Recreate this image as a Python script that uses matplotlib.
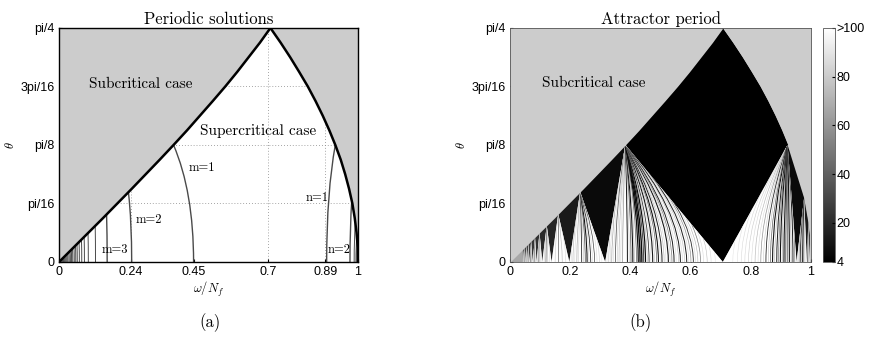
import numpy as np
import matplotlib
matplotlib.use("Agg")
import matplotlib.pyplot as plt
from matplotlib.path import Path
from matplotlib.patches import PathPatch, Polygon
from matplotlib.cm import ScalarMappable
from matplotlib.colors import Normalize

plt.rcParams['font.family'] = ['Liberation Sans', 'DejaVu Sans']
plt.rcParams['mathtext.fontset'] = 'cm'

# ---- critical lines (theta in rad vs omega/N_f) ----
theta_lev = np.arange(17) * np.pi / 64
left_x = [0.0, 0.049, 0.098, 0.147, 0.195, 0.243, 0.290, 0.337, 0.383,
          0.428, 0.471, 0.514, 0.556, 0.596, 0.634, 0.672, 0.707]
right_x = [1.0, 0.999, 0.995, 0.989, 0.981, 0.970, 0.957, 0.942, 0.924,
           0.904, 0.882, 0.858, 0.832, 0.803, 0.773, 0.741, 0.707]

# ---- periodic solution branches (left panel) ----
m_bot = [0.45, 0.243, 0.161, 0.122, 0.098, 0.085, 0.076, 0.068, 0.061, 0.056,
         0.051, 0.046, 0.042, 0.038, 0.034, 0.030, 0.027, 0.024, 0.021, 0.018,
         0.015, 0.012, 0.009, 0.006]
m_top_x = [0.383, 0.232, 0.159, 0.121, 0.097, 0.084, 0.075, 0.067, 0.060, 0.055,
           0.050, 0.045, 0.041, 0.037, 0.033, 0.029, 0.026, 0.023, 0.020, 0.017,
           0.014, 0.011, 0.008, 0.005]
n_bot = [0.895, 0.973, 0.987, 0.993, 0.996, 0.998]
n_top_x = [0.924, 0.979, 0.991, 0.996, 0.998, 0.999]
n_top_t = [0.393, 0.205, 0.134, 0.090, 0.060, 0.045]

# ---- attractor map (right panel) ----
apex_x = [0.707, 0.383, 0.233, 0.160, 0.122, 0.098, 0.083, 0.070, 0.061, 0.054,
          0.048, 0.043]
apex_t = [0.785, 0.393, 0.235, 0.161, 0.122, 0.098, 0.083, 0.070, 0.061, 0.054,
          0.048, 0.043]
base_x = [0.707, 0.316, 0.197, 0.138, 0.107, 0.088, 0.075, 0.065, 0.057, 0.051,
          0.046, 0.041]
tri_period = [8, 14, 18, 20, 22, 24, 26, 28, 30, 32, 34]

rapex_x = [0.707, 0.922, 0.977, 0.991, 0.996]
rapex_t = [0.785, 0.393, 0.215, 0.134, 0.090]
rbase_x = [0.707, 0.952, 0.986, 0.995, 1.0]
rtri_period = [8, 14, 18]

# streaks in each fan: base position, period of the streak, width
fan1_x = [0.322, 0.328, 0.333, 0.338, 0.344, 0.350, 0.356, 0.362, 0.368, 0.374,
          0.390, 0.396, 0.402, 0.408, 0.413, 0.420, 0.426, 0.432, 0.438, 0.444,
          0.450, 0.456, 0.462, 0.468, 0.474, 0.480, 0.487, 0.493, 0.499, 0.505,
          0.512, 0.518, 0.526, 0.532, 0.538, 0.545, 0.552, 0.560, 0.566, 0.573,
          0.580, 0.587, 0.594, 0.601, 0.609, 0.616, 0.624, 0.633, 0.643, 0.655,
          0.668, 0.682]
fan1_p = [85, 75, 85, 60, 85, 40, 80, 70, 85, 60,
          12, 75, 30, 10, 70, 40, 10, 8, 8, 20, 8, 70, 25, 85, 12,
          75, 40, 10, 85, 15, 70, 85, 12, 80, 50, 15, 85, 70, 12, 85,
          75, 15, 85, 60, 20, 85, 70, 50, 85, 75, 85, 90]
fan1_w = [0.4, 0.4, 0.4, 0.4, 0.4, 0.6, 0.4, 0.4, 0.4, 0.5,
          0.7, 0.4, 0.5, 0.8, 0.4, 0.5, 0.9, 1.0, 1.0, 0.6, 0.9, 0.4, 0.6, 0.4,
          0.8, 0.4, 0.5, 0.8, 0.4, 0.7, 0.4, 0.4, 0.8, 0.4, 0.5, 0.7, 0.4, 0.4,
          0.7, 0.4, 0.4, 0.7, 0.4, 0.5, 0.6, 0.4, 0.4, 0.5, 0.4, 0.4, 0.4, 0.4]
fan2_x = [0.203, 0.209, 0.215, 0.222, 0.228, 0.238, 0.244, 0.250, 0.256, 0.262,
          0.268, 0.274, 0.281, 0.289, 0.297, 0.305]
fan2_p = [85, 70, 85, 60, 80, 20, 75, 30, 12, 80, 20, 85, 30, 85, 80, 90]
fan2_w = [0.4, 0.4, 0.4, 0.4, 0.4, 0.6, 0.4, 0.5, 0.8, 0.4, 0.6, 0.4, 0.5, 0.4,
          0.4, 0.4]
fanr1_x = [0.740, 0.755, 0.768, 0.780, 0.792, 0.803, 0.814, 0.824, 0.833, 0.842,
           0.850, 0.858, 0.865, 0.872, 0.879, 0.886, 0.892, 0.898, 0.904, 0.910,
           0.916, 0.922, 0.928, 0.934, 0.940, 0.946]
fanr1_p = [90, 88, 85, 85, 80, 85, 70, 85, 60, 80, 20, 75, 40, 12, 70, 15, 50, 10,
           60, 12, 30, 40, 12, 60, 15, 50]
fanr1_w = [0.4, 0.4, 0.4, 0.4, 0.4, 0.4, 0.4, 0.4, 0.5, 0.4, 0.6, 0.4, 0.5, 0.8,
           0.4, 0.7, 0.5, 0.8, 0.4, 0.8, 0.6, 0.5, 0.8, 0.4, 0.7, 0.5]
fanr2_x = [0.956, 0.960, 0.964, 0.968, 0.972, 0.976, 0.980]
fanr2_p = [80, 60, 20, 70, 12, 40, 80]
fanr2_w = [0.4, 0.4, 0.6, 0.4, 0.7, 0.5, 0.4]

cb_ticks = [4, 20, 40, 60, 80, 100]
cb_labels = ['4', '20', '40', '60', '80', '>100']

SUB = '#cccccc'
cmap = plt.get_cmap('gray')
norm = Normalize(4, 100)


def curve(ax, p0, p1, ctrl_frac, **kw):
    verts = [p0, (p0[0], p1[1] * ctrl_frac), p1]
    path = Path(verts, [Path.MOVETO, Path.CURVE3, Path.CURVE3])
    patch = PathPatch(path, fill=False, **kw)
    ax.add_patch(patch)
    return patch


fig = plt.figure(figsize=(8.72, 3.37), dpi=100)
ax1 = fig.add_axes([0.0677, 0.2226, 0.3429, 0.6944])
ax2 = fig.add_axes([0.5849, 0.2226, 0.3452, 0.6944])
cax = fig.add_axes([0.9438, 0.2226, 0.0138, 0.6944])

# -------------------------- left panel --------------------------
ax1.set_facecolor('white')
# dotted grid inside the supercritical wedge
for gx in [0.24, 0.7, 0.89]:
    ax1.axvline(gx, color='#888888', ls=(0, (1, 2.5)), lw=0.6, zorder=1)
for gy in [np.pi / 16, np.pi / 8, 3 * np.pi / 16]:
    ax1.axhline(gy, color='#888888', ls=(0, (1, 2.5)), lw=0.6, zorder=1)

ax1.fill_betweenx(theta_lev, 0, left_x, color=SUB, lw=0, zorder=2)
ax1.fill_betweenx(theta_lev, right_x, 1, color=SUB, lw=0, zorder=2)
ax1.fill_between([0, 0.707], [0.785, 0.785], 1, color=SUB, lw=0, zorder=2)

for k in range(len(m_bot)):
    tt = m_top_x[k]
    tt_theta = np.interp(tt, left_x, theta_lev)
    lw = 1.0 if k < 3 else 0.7
    curve(ax1, (m_bot[k], 0), (tt, tt_theta), 0.6, ec='#4a4a4a', lw=lw, zorder=3)
for k in range(len(n_bot)):
    curve(ax1, (n_bot[k], 0), (n_top_x[k], n_top_t[k]), 0.6, ec='#4a4a4a',
          lw=1.0 if k < 2 else 0.7, zorder=3)

ax1.plot(left_x, theta_lev, color='black', lw=1.8, zorder=4, solid_capstyle='round')
ax1.plot(right_x, theta_lev, color='black', lw=1.8, zorder=4, solid_capstyle='round')

txt = dict(family='cmr10', zorder=5)
ax1.text(0.274, 0.597, 'Subcritical case', ha='center', va='center', fontsize=11, **txt)
ax1.text(0.667, 0.439, 'Supercritical case', ha='center', va='center', fontsize=11, **txt)
ax1.text(0.478, 0.315, 'm=1', ha='center', va='center', fontsize=9, **txt)
ax1.text(0.301, 0.141, 'm=2', ha='center', va='center', fontsize=9, **txt)
ax1.text(0.187, 0.040, 'm=3', ha='center', va='center', fontsize=9, **txt)
ax1.text(0.862, 0.215, 'n=1', ha='center', va='center', fontsize=9, **txt)
ax1.text(0.936, 0.040, 'n=2', ha='center', va='center', fontsize=9, **txt)

ax1.set_xlim(0, 1)
ax1.set_ylim(0, np.pi / 4)
ax1.set_xticks([0, 0.24, 0.45, 0.7, 0.89, 1])
ax1.set_xticklabels(['0', '0.24', '0.45', '0.7', '0.89', '1'])
ax1.set_title('Periodic solutions', family='cmr10', fontsize=12, pad=3)

# -------------------------- right panel --------------------------
ax2.set_facecolor(SUB)

# central period-4 diamond
dia = [(x, t) for x, t in zip(left_x[8:], theta_lev[8:])]
dia += [(x, t) for x, t in zip(right_x[::-1][:9], theta_lev[::-1][:9])]
dia += [(0.707, 0.0)]
ax2.add_patch(Polygon(dia, closed=True, fc=cmap(norm(4)), ec='none', zorder=2))


def fan(ax, apex, b0, b1, xs, ps, ws):
    tri = Polygon([apex, (b0, 0), (b1, 0)], closed=True, fc='white', ec='none', zorder=2)
    ax.add_patch(tri)
    for x, p, w in zip(xs, ps, ws):
        c = curve(ax, (x, 0), apex, 0.45, ec=cmap(norm(p)), lw=w, zorder=3)
        c.set_clip_path(tri)


# cascade towards omega -> 0
for k in range(len(tri_period)):
    ax2.add_patch(Polygon([(apex_x[k + 1], apex_t[k + 1]),
                           (apex_x[k + 2], apex_t[k + 2]) if k + 2 < len(apex_x) else (0, 0),
                           (base_x[k + 1], 0)],
                          closed=True, fc=cmap(norm(tri_period[k])), ec='none', zorder=2))
fan(ax2, (apex_x[1], apex_t[1]), base_x[1], base_x[0], fan1_x, fan1_p, fan1_w)
fan(ax2, (apex_x[2], apex_t[2]), base_x[2], base_x[1], fan2_x, fan2_p, fan2_w)
for k in range(3, len(apex_x)):
    b0, b1 = base_x[k], base_x[k - 1]
    xs = [b0 + (b1 - b0) * f for f in (0.2, 0.4, 0.6, 0.8)]
    fan(ax2, (apex_x[k], apex_t[k]), b0, b1, xs, [80, 40, 70, 85], [0.4, 0.5, 0.4, 0.4])
ax2.add_patch(Polygon([(0, 0), (apex_x[-1], apex_t[-1]), (base_x[-1], 0)],
                      closed=True, fc='#a8a8a8', ec='none', zorder=2))

# cascade towards omega -> N_f
for k in range(len(rtri_period)):
    ax2.add_patch(Polygon([(rapex_x[k + 1], rapex_t[k + 1]), (rapex_x[k + 2], rapex_t[k + 2]),
                           (rbase_x[k + 1], 0)], closed=True,
                          fc=cmap(norm(rtri_period[k])), ec='none', zorder=2))
fan(ax2, (rapex_x[1], rapex_t[1]), rbase_x[0], rbase_x[1], fanr1_x, fanr1_p, fanr1_w)
fan(ax2, (rapex_x[2], rapex_t[2]), rbase_x[1], rbase_x[2], fanr2_x, fanr2_p, fanr2_w)
fan(ax2, (rapex_x[3], rapex_t[3]), rbase_x[2], rbase_x[3], [0.989, 0.992], [20, 70], [0.5, 0.4])

# keep subcritical zone clean
ax2.fill_betweenx(theta_lev, 0, left_x, color=SUB, lw=0, zorder=4)
ax2.fill_betweenx(theta_lev, right_x, 1, color=SUB, lw=0, zorder=4)

ax2.text(0.277, 0.600, 'Subcritical case', ha='center', va='center', fontsize=11, **txt)
ax2.set_xlim(0, 1)
ax2.set_ylim(0, np.pi / 4)
ax2.set_xticks([0, 0.2, 0.4, 0.6, 0.8, 1])
ax2.set_xticklabels(['0', '0.2', '0.4', '0.6', '0.8', '1'])
ax2.set_title('Attractor period', family='cmr10', fontsize=12, pad=3)

for ax in (ax1, ax2):
    ax.set_yticks([0, np.pi / 16, np.pi / 8, 3 * np.pi / 16, np.pi / 4])
    ax.set_yticklabels(['0', 'pi/16', 'pi/8', '3pi/16', 'pi/4'])
    ax.tick_params(direction='in', length=2, labelsize=9, pad=3)
    ax.set_xlabel(r'$\omega/N_f$', fontsize=9, labelpad=1)
    for s in ax.spines.values():
        s.set_zorder(6)
for s in ax1.spines.values():
    s.set_linewidth(1.0)
for s in ax2.spines.values():
    s.set_linewidth(0.6)
    s.set_color('#555555')

# y labels placed by hand (they sit close to the figure edge)
ymid = 0.2226 + 0.6944 / 2
fig.text(11 / 872, ymid, r'$\theta$', fontsize=9, rotation=90, ha='center', va='center')
fig.text(461 / 872, ymid, r'$\theta$', fontsize=9, rotation=90, ha='center', va='center')

# colourbar
sm = ScalarMappable(norm=norm, cmap=cmap)
cb = fig.colorbar(sm, cax=cax, ticks=cb_ticks)
cb.ax.set_yticklabels(cb_labels)
cb.ax.tick_params(direction='in', length=2, labelsize=9, pad=1)
cb.outline.set_linewidth(0.6)
cb.outline.set_edgecolor('#555555')

fig.text(0.241, 0.042, '(a)', family='cmr10', fontsize=12, ha='center', va='center')
fig.text(0.734, 0.042, '(b)', family='cmr10', fontsize=12, ha='center', va='center')

fig.savefig('out.png', dpi=100)
